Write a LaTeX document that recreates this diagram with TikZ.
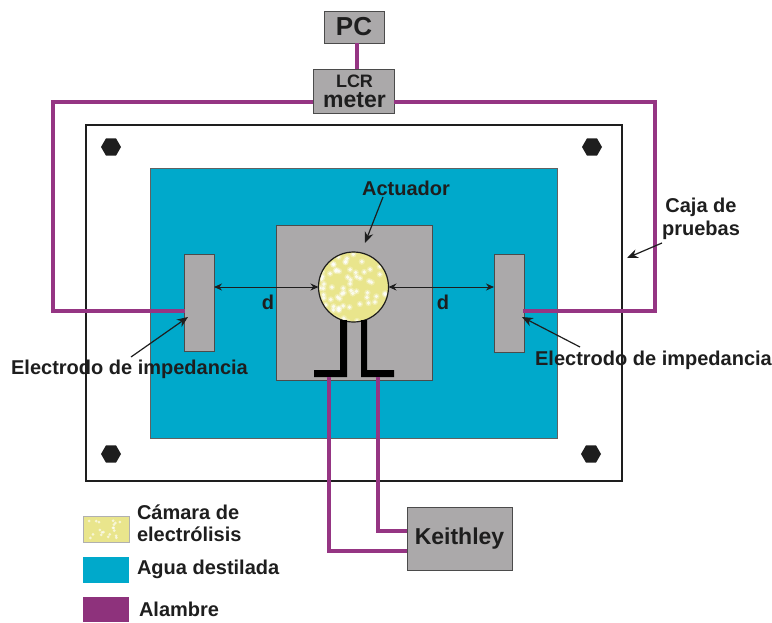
\documentclass[tikz,border=0pt]{standalone}
\usepackage{fontspec}
\setmainfont{Liberation Sans}
\usetikzlibrary{arrows.meta,shapes.geometric}
\definecolor{water}{HTML}{00A9CB}
\definecolor{graybox}{HTML}{ABA9AA}
\definecolor{wire}{HTML}{953583}
\definecolor{cham}{HTML}{E9E58C}
\definecolor{ink}{HTML}{1E1E1E}
\newcommand{\fsz}[1]{\fontsize{#1}{#1}\selectfont\bfseries}
\tikzset{
  every node/.style={outer sep=0pt},
  box/.style={draw=#1,line width=1pt,inner sep=0pt,anchor=north west},
  graynode/.style={box=ink!80,fill=graybox,text=ink,align=center},
  wireline/.style={draw=wire,line width=3.2pt,line join=miter},
  lbl/.style={text=ink,inner sep=0pt,align=center},
  pointer/.style={draw=ink,line width=1.2pt,-{Stealth[length=11pt,width=9pt]}},
  dim/.style={draw=ink,line width=1pt,{Stealth[length=8pt,width=7pt]}-{Stealth[length=8pt,width=7pt]}},
  bolt/.style={regular polygon,regular polygon sides=6,fill=ink,inner sep=0pt,minimum size=20pt},
  foot/.style={fill=black,draw=none},
  swatch/.style={inner sep=0pt,anchor=north west,minimum width=46pt}
}
\begin{document}
\begin{tikzpicture}[x=1pt,y=-1pt]
\useasboundingbox (0,0) rectangle (772,622);
% outer box and water
\node[box=ink,line width=2pt,minimum width=536pt,minimum height=356pt] (caja) at (86,125) {};
\node[box=ink!70,fill=water,minimum width=407pt,minimum height=270pt] (agua) at (150,168) {};
\node[graynode,minimum width=156pt,minimum height=155pt] (base) at (276,225) {};
% bolts
\node[bolt] (b1) at (111,147) {};
\node[bolt] (b2) at (592,147) {};
\node[bolt] (b3) at (111,454) {};
\node[bolt] (b4) at (591,454) {};
% electrodes
\node[graynode,minimum width=30pt,minimum height=97pt] (el1) at (184,254) {};
\node[graynode,minimum width=30pt,minimum height=98pt] (el2) at (494,254) {};
% instruments
\node[graynode,minimum width=60pt,minimum height=32pt,font=\fsz{26}] (pc) at (324,11) {PC};
\node[graynode,minimum width=81pt,minimum height=44pt] (lcr) at (313,69) {};
\node[lbl,font=\fsz{18}] (lcrt) at (354.5,81) {LCR};
\node[lbl,font=\fsz{23}] (mett) at (354.5,100.5) {meter};
\node[graynode,minimum width=105pt,minimum height=63pt,font=\fsz{23}] (key) at (407,507) {Keithley};
% chamber
\node[circle,draw=ink,line width=1.2pt,fill=cham,minimum size=70pt,inner sep=0pt] (cam) at (353.5,287) {};
\begin{scope}
  \clip (cam) circle (34pt);
  \pgfmathsetseed{23}
  \foreach \i in {1,...,75} {
    \fill[white,opacity=.28] (319+70*rnd,252+70*rnd) coordinate (sp) circle (3.2pt);
    \fill[white,opacity=.75] (sp) circle (1.9pt);
  }
\end{scope}
% feet
\fill[foot] (340,320) -- (347,320) -- (347,377) -- (314,377) -- (314,370) -- (340,370) -- cycle;
\fill[foot] (361,320) -- (367,320) -- (367,370) -- (394,370) -- (394,377) -- (361,377) -- cycle;
% wires
\coordinate (wl1) at (53,102);
\coordinate (wl2) at (53,311);
\coordinate (wr1) at (655,102);
\coordinate (wr2) at (655,311);
\coordinate (ew1) at (185,311);
\coordinate (ew2) at (523,311);
\coordinate (lw) at (313,102);
\coordinate (rw) at (394,102);
\coordinate (k1) at (329,377);
\coordinate (k2) at (329,551);
\coordinate (k3) at (407,551);
\coordinate (k4) at (378,377);
\coordinate (k5) at (378,531);
\coordinate (k6) at (407,531);
\draw[wireline] (pc.south -| 357,0) -- (lcr.north -| 357,0);
\draw[wireline] (lw) -- (wl1) -- (wl2) -- (ew1);
\draw[wireline] (rw) -- (wr1) -- (wr2) -- (ew2);
\draw[wireline] (k1) -- (k2) -- (k3);
\draw[wireline] (k4) -- (k5) -- (k6);
% dimensions
\draw[dim] (el1.east |- cam.center) -- (cam.west);
\draw[dim] (cam.east) -- (el2.west |- cam.center);
\node[lbl,font=\fsz{20}] (d1) at (268,302) {d};
\node[lbl,font=\fsz{20}] (d2) at (443,302) {d};
% labels
\node[lbl,font=\fsz{20}] (act) at (406,188) {Actuador};
\coordinate (actp) at (365,243);
\draw[pointer] (383,197) -- (actp);
\node[lbl,font=\fsz{20}] (cajat) at (701,218.5) {Caja de\\[3pt]pruebas};
\coordinate (cajap) at (627,258);
\draw[pointer] (662,243) -- (cajap);
\node[lbl,font=\fsz{20}] (e1t) at (129.5,369.5) {Electrodo de impedancia};
\coordinate (e1p) at (188,317);
\draw[pointer] (131,357) -- (e1p);
\node[lbl,font=\fsz{20}] (e2t) at (653.5,360.5) {Electrodo de impedancia};
\coordinate (e2p) at (522,317);
\draw[pointer] (580,347) -- (e2p);
% legend
\node[swatch,fill=cham,draw=ink!35,minimum height=26pt] (s1) at (83,516) {};
\begin{scope}
  \pgfmathsetseed{5}
  \foreach \i in {1,...,20} {
    \fill[white,opacity=.65] (87+38*rnd,520+18*rnd) circle (1.5pt);
  }
\end{scope}
\node[swatch,fill=water,minimum height=26pt] (s2) at (83,557) {};
\node[swatch,fill=wire!95!black,minimum height=25pt] (s3) at (83,597) {};
\node[lbl,font=\fsz{20},anchor=west,align=left] (t1) at (137,523.5) {Cámara de\\[2pt]electrólisis};
\node[lbl,font=\fsz{20},anchor=west] (t2) at (137,569) {Agua destilada};
\node[lbl,font=\fsz{20},anchor=west] (t3) at (139,609) {Alambre};
\end{tikzpicture}
\end{document}
